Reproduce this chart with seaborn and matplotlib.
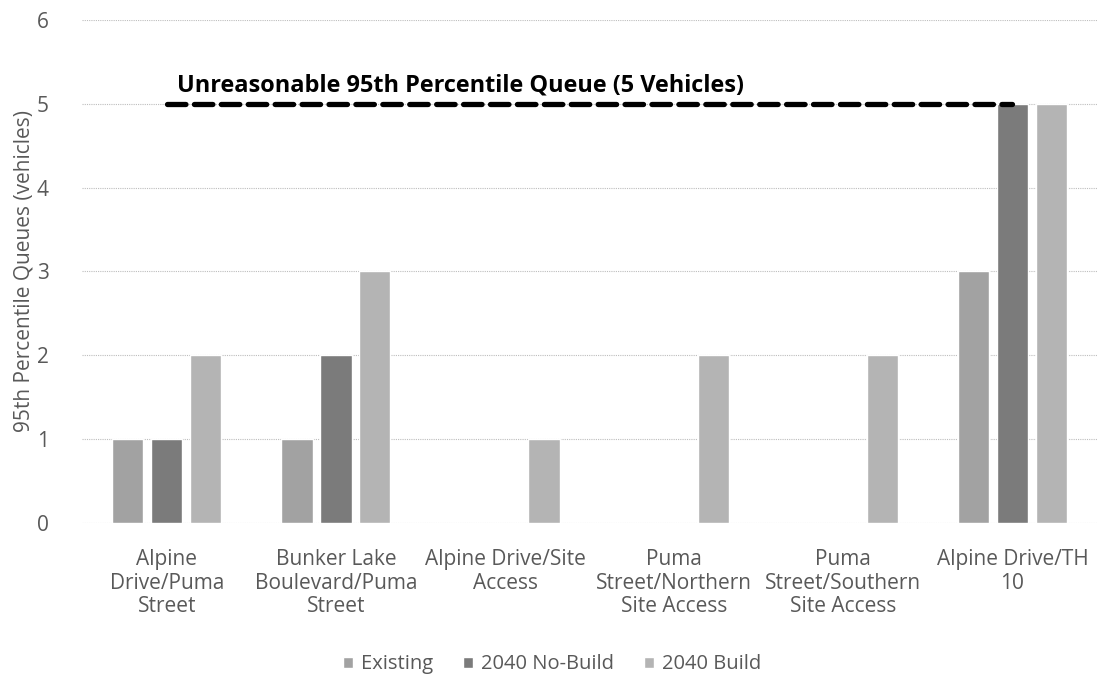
import pandas as pd
import seaborn as sns
import matplotlib.pyplot as plt

# chart data
intersections = ["Alpine\nDrive/Puma\nStreet", "Bunker Lake\nBoulevard/Puma\nStreet",
                 "Alpine Drive/Site\nAccess", "Puma\nStreet/Northern\nSite Access",
                 "Puma\nStreet/Southern\nSite Access", "Alpine Drive/TH\n10"]
existing = [1, 1, 0, 0, 0, 3]
no_build = [1, 2, 0, 0, 0, 5]
build = [2, 3, 1, 2, 2, 5]
scenarios = ["Existing", "2040 No-Build", "2040 Build"]
threshold = 5

df = pd.DataFrame({
    "intersection": intersections * 3,
    "scenario": [s for s in scenarios for _ in intersections],
    "queue": existing + no_build + build,
})

sns.set_style("white")
plt.rcParams['font.family'] = ['Open Sans', 'DejaVu Sans']

fig = plt.figure(figsize=(10.97, 6.81), dpi=100)
ax = fig.add_axes([0.075, 0.232, 0.925, 0.739])

palette = ["#a2a2a2", "#7b7b7b", "#b4b4b4"]
sns.barplot(data=df, x="intersection", y="queue", hue="scenario", palette=palette,
            width=0.69, gap=0.2, ax=ax, saturation=1)

ax.set_ylim(0, 6)
ax.set_xlim(-0.5, 5.5)
ax.set_yticks(range(0, 7))
ax.yaxis.grid(True, linestyle=(0, (1, 1)), color="#bdbdbd", linewidth=0.8)
ax.set_axisbelow(True)
for s in ax.spines.values():
    s.set_visible(False)
ax.tick_params(axis="both", length=0, labelsize=15, colors="#595959")
ax.tick_params(axis="y", pad=24)
ax.tick_params(axis="x", pad=19)
for lbl in ax.get_xticklabels():
    lbl.set_linespacing(1.15)
ax.set_xlabel("")
ax.set_ylabel("95th Percentile Queues (vehicles)", fontsize=15, color="#595959", labelpad=2)

# threshold line
ax.plot([0, 5], [threshold, threshold], color="black", linewidth=3.8,
        linestyle=(0, (3.5, 1.6)), dash_capstyle="round", solid_capstyle="round")
ax.text(0.06, threshold + 0.07, "Unreasonable 95th Percentile Queue (5 Vehicles)",
        fontsize=16.9, fontweight="bold", color="black", va="bottom", ha="left")

ax.legend(loc="lower center", bbox_to_anchor=(0.463, -0.337), ncol=3, frameon=False,
          fontsize=14.5, handlelength=0.5, handleheight=0.5, handletextpad=0.4,
          columnspacing=1.5, labelcolor="#595959")

fig.savefig("out.png", dpi=100)
